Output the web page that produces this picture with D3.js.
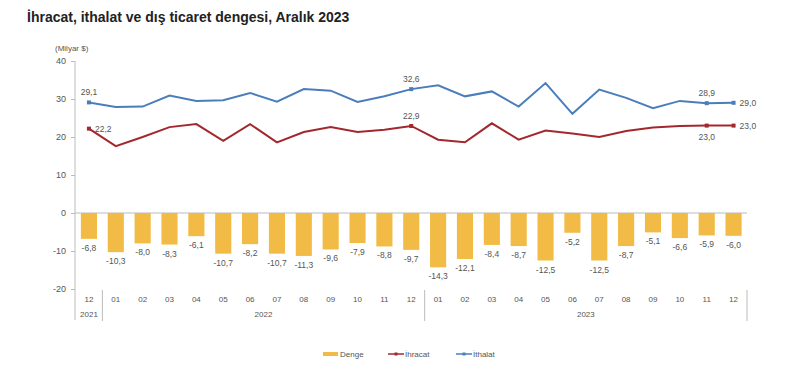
<!DOCTYPE html>
<html>
<head>
<meta charset="utf-8">
<script src="https://cdn.jsdelivr.net/npm/d3@7"></script>
<style>
  body { margin: 0; background: #fff; }
  text { font-family: "Liberation Sans", Arial, sans-serif; }
</style>
</head>
<body>
<div id="container"></div>
<script>
const width = 800;
const height = 387;

const months = ["12","01","02","03","04","05","06","07","08","09","10","11","12",
  "01","02","03","04","05","06","07","08","09","10","11","12"];
const years = [
  { label: "2021", from: 0, to: 0 },
  { label: "2022", from: 1, to: 12 },
  { label: "2023", from: 13, to: 24 }
];
const denge = [-6.8,-10.3,-8.0,-8.3,-6.1,-10.7,-8.2,-10.7,-11.3,-9.6,-7.9,-8.8,-9.7,
  -14.3,-12.1,-8.4,-8.7,-12.5,-5.2,-12.5,-8.7,-5.1,-6.6,-5.9,-6.0];
const ihracat = [22.2,17.6,20.0,22.6,23.4,19.0,23.4,18.6,21.3,22.6,21.3,21.9,22.9,
  19.3,18.6,23.6,19.3,21.7,20.9,20.0,21.6,22.5,22.9,23.0,23.0];
const ithalat = [29.1,27.9,28.0,30.9,29.5,29.7,31.6,29.3,32.6,32.2,29.2,30.7,32.6,
  33.6,30.7,32.0,28.0,34.2,26.1,32.5,30.3,27.6,29.5,28.9,29.0];
const yTicks = [-20,-10,0,10,20,30,40];

// which points get a value label: [index, position]
const ihracatLabels = [[0,"right"],[12,"top"],[23,"bottom"],[24,"right"]];
const ithalatLabels = [[0,"top"],[12,"top"],[23,"top"],[24,"right"]];

const colBar = "#f2bb45";
const colRed = "#a3282e";
const colBlue = "#4a7ebb";
const textCol = "#555";
const fmt = v => v.toFixed(1).replace(".", ",");

const svg = d3.select("#container").append("svg")
  .attr("width", width).attr("height", height);

svg.append("text").attr("x", 27).attr("y", 22)
  .attr("font-size", 14).attr("font-weight", "bold").attr("fill", "#222")
  .text("İhracat, ithalat ve dış ticaret dengesi, Aralık 2023");

const x = d3.scaleBand().domain(d3.range(months.length))
  .range([75.5, 747]).paddingInner(0.4).paddingOuter(0.2);
const y = d3.scaleLinear().domain([-20, 40]).range([289, 61]);
const cx = i => x(i) + x.bandwidth() / 2;

svg.append("text").attr("x", 55).attr("y", 51)
  .attr("font-size", 8).attr("fill", textCol).text("(Milyar $)");

// y axis
const yAxis = svg.append("g").attr("transform", "translate(75,0)")
  .call(d3.axisLeft(y).tickValues(yTicks).tickSize(4).tickPadding(5).tickFormat(d => String(d)));
yAxis.select(".domain").remove();
yAxis.selectAll("line").attr("stroke", "#bbb");
yAxis.selectAll("text").attr("font-size", 9).attr("fill", textCol)
  .style("font-family", "Liberation Sans, Arial, sans-serif");
svg.append("line").attr("x1", 75).attr("x2", 75).attr("y1", 61).attr("y2", 320)
  .attr("stroke", "#bbb");

// bars
svg.selectAll("rect.bar").data(denge).join("rect")
  .attr("class", "bar")
  .attr("x", (d, i) => x(i)).attr("width", x.bandwidth())
  .attr("y", y(0)).attr("height", d => y(d) - y(0))
  .attr("fill", colBar);

svg.append("line").attr("x1", 75).attr("x2", 747).attr("y1", y(0)).attr("y2", y(0))
  .attr("stroke", "#bbb");

svg.selectAll("text.blab").data(denge).join("text")
  .attr("class", "blab")
  .attr("x", (d, i) => cx(i)).attr("y", d => y(d) + 12)
  .attr("text-anchor", "middle").attr("font-size", 8.5).attr("fill", textCol)
  .text(d => fmt(d));

// lines
const line = d3.line().x((d, i) => cx(i)).y(d => y(d));
svg.append("path").datum(ihracat).attr("d", line)
  .attr("fill", "none").attr("stroke", colRed).attr("stroke-width", 2);
svg.append("path").datum(ithalat).attr("d", line)
  .attr("fill", "none").attr("stroke", colBlue).attr("stroke-width", 2);

function pointLabels(data, spec, color) {
  spec.forEach(([i, pos]) => {
    const px = cx(i), py = y(data[i]);
    svg.append("rect").attr("x", px - 2).attr("y", py - 2)
      .attr("width", 4).attr("height", 4).attr("fill", color);
    const t = svg.append("text").attr("font-size", 8.5).attr("fill", textCol).text(fmt(data[i]));
    if (pos === "top") t.attr("x", px).attr("y", py - 7).attr("text-anchor", "middle");
    if (pos === "bottom") t.attr("x", px).attr("y", py + 14).attr("text-anchor", "middle");
    if (pos === "right") t.attr("x", px + 6).attr("y", py + 3);
  });
}
pointLabels(ihracat, ihracatLabels, colRed);
pointLabels(ithalat, ithalatLabels, colBlue);

// x axis labels
svg.selectAll("text.mon").data(months).join("text")
  .attr("class", "mon")
  .attr("x", (d, i) => cx(i)).attr("y", 302)
  .attr("text-anchor", "middle").attr("font-size", 8).attr("fill", textCol)
  .text(d => d);
svg.selectAll("text.yr").data(years).join("text")
  .attr("class", "yr")
  .attr("x", d => (cx(d.from) + cx(d.to)) / 2).attr("y", 317)
  .attr("text-anchor", "middle").attr("font-size", 8).attr("fill", textCol)
  .text(d => d.label);
const step = x.step();
[0.5, 12.5, 24.5].forEach(k => {
  const xx = cx(0) + k * step;
  svg.append("line").attr("x1", xx).attr("x2", xx).attr("y1", 290).attr("y2", 321)
    .attr("stroke", "#bbb");
});

// legend
const lg = svg.append("g").attr("transform", "translate(0,354)");
lg.append("rect").attr("x", 323).attr("y", -2).attr("width", 15).attr("height", 4).attr("fill", colBar);
lg.append("text").attr("x", 340).attr("y", 3).attr("font-size", 8).attr("fill", textCol).text("Denge");
[[388, colRed, "İhracat"], [456, colBlue, "İthalat"]].forEach(([lx, c, name]) => {
  lg.append("line").attr("x1", lx).attr("x2", lx + 16).attr("y1", 0).attr("y2", 0)
    .attr("stroke", c).attr("stroke-width", 1.5);
  lg.append("rect").attr("x", lx + 6.5).attr("y", -1.5).attr("width", 3).attr("height", 3).attr("fill", c);
  lg.append("text").attr("x", lx + 17).attr("y", 3).attr("font-size", 8).attr("fill", textCol).text(name);
});
</script>
</body>
</html>
